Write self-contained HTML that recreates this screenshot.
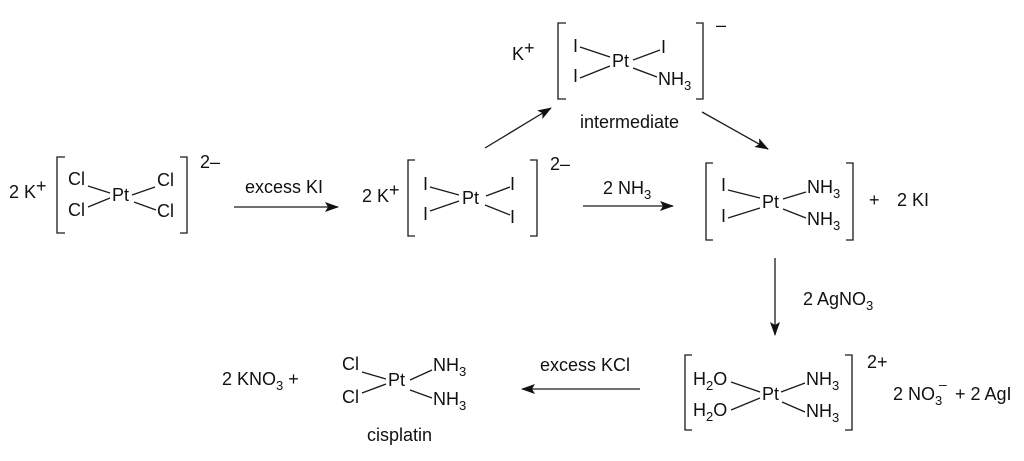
<!DOCTYPE html>
<html>
<head>
<meta charset="utf-8">
<style>
  html, body { margin: 0; padding: 0; background: #fff; }
  svg { display: block; }
  text { font-family: "Liberation Sans", Arial, sans-serif; font-size: 18px; fill: #111; }
  .b { stroke: #1a1a1a; stroke-width: 1.3; fill: none; }
  .s { font-size: 18px; }
  .p { font-size: 18px; }
</style>
</head>
<body>
<svg width="1024" height="461" viewBox="0 0 1024 461" xmlns="http://www.w3.org/2000/svg">
  <defs>
    <marker id="ah" viewBox="0 0 14 10" refX="13" refY="5" markerWidth="14" markerHeight="10" markerUnits="userSpaceOnUse" orient="auto">
      <path d="M0,0 L14,5 L0,10 L3,5 Z" fill="#111"/>
    </marker>
  </defs>

  <!-- Structure 1: K2[PtCl4] -->
  <text x="9" y="198">2 K</text>
  <text x="36" y="192" class="p">+</text>
  <path class="b" d="M65,157 H57 V233 H65"/>
  <path class="b" d="M180,157 H187 V233 H180"/>
  <text x="200" y="168" class="s">2–</text>
  <text x="68" y="185">Cl</text>
  <text x="68" y="216">Cl</text>
  <text x="112" y="201">Pt</text>
  <text x="157" y="186">Cl</text>
  <text x="157" y="217">Cl</text>
  <line class="b" x1="88" y1="186" x2="110" y2="193"/>
  <line class="b" x1="88" y1="207" x2="110" y2="198"/>
  <line class="b" x1="132" y1="195" x2="155" y2="187"/>
  <line class="b" x1="134" y1="202" x2="156" y2="210"/>

  <!-- Arrow 1 -->
  <text x="245" y="193">excess KI</text>
  <line class="b" x1="234" y1="207" x2="338" y2="207" marker-end="url(#ah)"/>

  <!-- Structure 2: K2[PtI4] -->
  <text x="362" y="202">2 K</text>
  <text x="389" y="196" class="p">+</text>
  <path class="b" d="M415,160 H408 V236 H415"/>
  <path class="b" d="M530,160 H537 V236 H530"/>
  <text x="550" y="170" class="s">2–</text>
  <text x="423" y="190">I</text>
  <text x="423" y="220">I</text>
  <text x="462" y="204">Pt</text>
  <text x="510" y="190">I</text>
  <text x="510" y="223">I</text>
  <line class="b" x1="430" y1="187" x2="459" y2="195"/>
  <line class="b" x1="430" y1="211" x2="459" y2="201"/>
  <line class="b" x1="486" y1="196" x2="510" y2="187"/>
  <line class="b" x1="485" y1="205" x2="510" y2="215"/>

  <!-- Arrow 2 -->
  <text x="603" y="194">2 NH<tspan font-size="13" dy="5">3</tspan></text>
  <line class="b" x1="583" y1="206" x2="673" y2="206" marker-end="url(#ah)"/>

  <!-- Intermediate -->
  <text x="512" y="60">K</text>
  <text x="524" y="54" class="p">+</text>
  <path class="b" d="M566,23 H558 V99 H566"/>
  <path class="b" d="M696,23 H703 V99 H696"/>
  <text x="716" y="31" class="s">–</text>
  <text x="573" y="52">I</text>
  <text x="573" y="82">I</text>
  <text x="612" y="67">Pt</text>
  <text x="661" y="53">I</text>
  <text x="658" y="85">NH<tspan font-size="13" dy="5">3</tspan></text>
  <line class="b" x1="580" y1="47" x2="610" y2="57"/>
  <line class="b" x1="580" y1="78" x2="610" y2="66"/>
  <line class="b" x1="633" y1="60" x2="660" y2="50"/>
  <line class="b" x1="633" y1="68" x2="657" y2="77"/>
  <text x="580" y="128">intermediate</text>
  <line class="b" x1="485" y1="148" x2="551" y2="108" marker-end="url(#ah)"/>
  <line class="b" x1="702" y1="112" x2="768" y2="149" marker-end="url(#ah)"/>

  <!-- Structure 3: PtI2(NH3)2 -->
  <path class="b" d="M713,163 H706 V240 H713"/>
  <path class="b" d="M846,163 H853 V240 H846"/>
  <text x="721" y="191">I</text>
  <text x="721" y="222">I</text>
  <text x="762" y="208">Pt</text>
  <text x="807" y="193">NH<tspan font-size="13" dy="5">3</tspan></text>
  <text x="807" y="225">NH<tspan font-size="13" dy="5">3</tspan></text>
  <line class="b" x1="728" y1="190" x2="760" y2="198"/>
  <line class="b" x1="728" y1="218" x2="760" y2="208"/>
  <line class="b" x1="783" y1="199" x2="806" y2="192"/>
  <line class="b" x1="783" y1="209" x2="806" y2="218"/>
  <text x="869" y="206">+</text>
  <text x="897" y="206">2 KI</text>

  <!-- Down arrow -->
  <line class="b" x1="775" y1="258" x2="775" y2="335" marker-end="url(#ah)"/>
  <text x="803" y="305">2 AgNO<tspan font-size="13" dy="5">3</tspan></text>

  <!-- Structure 4: aqua complex -->
  <path class="b" d="M692,355 H685 V430 H692"/>
  <path class="b" d="M845,355 H852 V430 H845"/>
  <text x="867" y="368" class="s">2+</text>
  <text x="693" y="385">H<tspan font-size="13" dy="5">2</tspan><tspan dy="-5">O</tspan></text>
  <text x="693" y="416">H<tspan font-size="13" dy="5">2</tspan><tspan dy="-5">O</tspan></text>
  <text x="762" y="400">Pt</text>
  <text x="806" y="385">NH<tspan font-size="13" dy="5">3</tspan></text>
  <text x="806" y="417">NH<tspan font-size="13" dy="5">3</tspan></text>
  <line class="b" x1="731" y1="382" x2="760" y2="392"/>
  <line class="b" x1="731" y1="410" x2="760" y2="398"/>
  <line class="b" x1="781" y1="392" x2="805" y2="383"/>
  <line class="b" x1="782" y1="402" x2="805" y2="412"/>
  <text x="893" y="400">2 NO</text>
  <text x="935" y="405" style="font-size:13px">3</text>
  <text x="939" y="389" style="font-size:14px">–</text>
  <text x="955" y="400">+ 2 AgI</text>

  <!-- Bottom arrow -->
  <text x="540" y="371">excess KCl</text>
  <line class="b" x1="640" y1="389" x2="522" y2="389" marker-end="url(#ah)"/>

  <!-- Cisplatin -->
  <text x="222" y="385">2 KNO<tspan font-size="13" dy="5">3</tspan><tspan dy="-5"> +</tspan></text>
  <text x="342" y="370">Cl</text>
  <text x="342" y="403">Cl</text>
  <text x="388" y="386">Pt</text>
  <text x="433" y="371">NH<tspan font-size="13" dy="5">3</tspan></text>
  <text x="433" y="405">NH<tspan font-size="13" dy="5">3</tspan></text>
  <line class="b" x1="362" y1="372" x2="386" y2="379"/>
  <line class="b" x1="362" y1="393" x2="386" y2="384"/>
  <line class="b" x1="410" y1="380" x2="432" y2="370"/>
  <line class="b" x1="410" y1="390" x2="432" y2="398"/>
  <text x="367" y="441">cisplatin</text>
</svg>
</body>
</html>
